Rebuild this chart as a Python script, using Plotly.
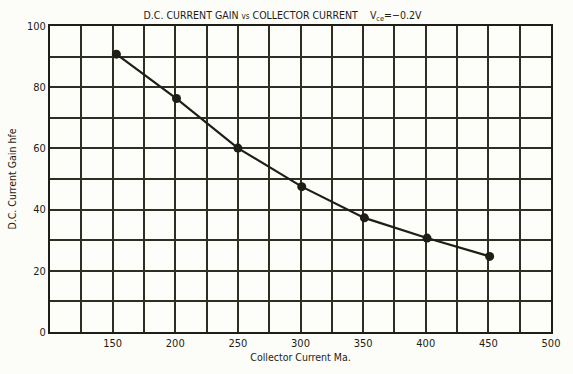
import plotly.graph_objects as go

# Collector current (mA) and DC current gain hfe
collector_current = [153, 201, 250, 301, 351, 401, 451]
current_gain = [90.8, 76.3, 60.1, 47.5, 37.3, 30.7, 24.7]

x_ticks = [150, 200, 250, 300, 350, 400, 450, 500]
x_labels = ["150", "200", "250", "300", "350", "400", "450", "500"]
y_ticks = [0, 20, 40, 60, 80, 100]
y_labels = ["0", "20", "40", "60", "80", "100"]

FONT = "Liberation Sans Narrow, DejaVu Sans Condensed, Arial Narrow, sans-serif"
INK = "#1e1e16"
GRID = "#2e2f22"

fig = go.Figure()
fig.add_trace(go.Scatter(
    x=collector_current, y=current_gain, mode="lines+markers",
    line=dict(color=INK, width=2.2),
    marker=dict(color=INK, size=9),
    showlegend=False,
))

fig.update_layout(
    width=573, height=374,
    margin=dict(l=44, r=22, t=26, b=31),
    paper_bgcolor="#fcfcf8", plot_bgcolor="#fdfdf9",
    font=dict(family=FONT, size=11, color=INK),
    title=dict(
        text="D.C. CURRENT GAIN <span style='font-size:8px'>vs</span> COLLECTOR CURRENT"
             "&nbsp;&nbsp;&nbsp;&nbsp;V<sub>ce</sub>=−0.2V",
        x=0.493, xanchor="center", y=0.96, yanchor="middle",
        font=dict(family=FONT, size=10.5, color=INK),
    ),
)

fig.update_xaxes(
    range=[100, 500], tickvals=x_ticks, ticktext=x_labels,
    showgrid=True, gridcolor=GRID, gridwidth=1.5,
    minor=dict(tick0=100, dtick=25, showgrid=True, gridcolor=GRID, gridwidth=1.5),
    showline=True, linecolor=INK, linewidth=2, mirror=True,
    zeroline=False, ticks="", ticklen=0,
    tickfont=dict(family=FONT, size=11, color=INK),
    title=dict(text="Collector Current Ma.", standoff=4,
               font=dict(family=FONT, size=10.5, color=INK)),
)
fig.update_yaxes(
    range=[0, 100], tickvals=y_ticks, ticktext=y_labels,
    showgrid=True, gridcolor=GRID, gridwidth=1.5,
    minor=dict(tick0=0, dtick=10, showgrid=True, gridcolor=GRID, gridwidth=1.5),
    showline=True, linecolor=INK, linewidth=2, mirror=True,
    zeroline=False, ticks="", ticklen=0,
    tickfont=dict(family=FONT, size=11, color=INK),
    title=dict(text="D.C. Current Gain hfe", standoff=8,
               font=dict(family=FONT, size=10.5, color=INK)),
)

fig.write_html("out.html")
